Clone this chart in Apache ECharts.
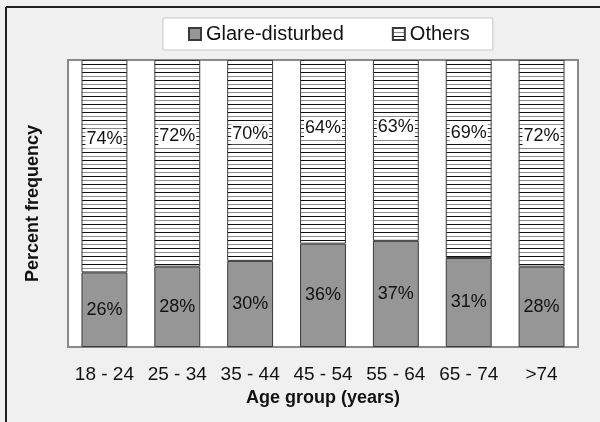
<!DOCTYPE html>
<html>
<head>
<meta charset="utf-8">
<script src="https://cdn.jsdelivr.net/npm/echarts@6/dist/echarts.min.js"></script>
<style>
  html, body { margin: 0; padding: 0; background: #f0f0f0; }
  #chart { width: 600px; height: 422px; }
</style>
</head>
<body>
<div id="chart"></div>
<script>
var categories = ['18 - 24', '25 - 34', '35 - 44', '45 - 54', '55 - 64', '65 - 74', '>74'];
var glareValues = [26, 28, 30, 36, 37, 31, 28];
var otherValues = [74, 72, 70, 64, 63, 69, 72];

// horizontal line hatch for "Others"
var hatch = document.createElement('canvas');
hatch.width = 8;
hatch.height = 8;
var hctx = hatch.getContext('2d');
hctx.fillStyle = '#ffffff';
hctx.fillRect(0, 0, 8, 8);
hctx.fillStyle = '#111111';
hctx.fillRect(0, 0, 8, 1);
hctx.fillStyle = '#8c8c8c';
hctx.fillRect(0, 4, 8, 1);

var font = 'Liberation Sans, Arial, sans-serif';

var chart = echarts.init(document.getElementById('chart'));
var option = {
    backgroundColor: '#f0f0f0',
    animation: false,
    textStyle: { fontFamily: font },
    graphic: [
        { type: 'line', shape: { x1: 6, y1: 7, x2: 600, y2: 7 }, style: { stroke: '#222', lineWidth: 2 } },
        { type: 'line', shape: { x1: 6, y1: 7, x2: 6, y2: 422 }, style: { stroke: '#222', lineWidth: 2 } }
    ],
    legend: {
        left: 163,
        top: 18,
        padding: [6, 23, 6, 25],
        itemGap: 48,
        itemWidth: 12,
        itemHeight: 12,
        icon: 'rect',
        backgroundColor: '#ffffff',
        borderColor: '#c8c8c8',
        borderWidth: 1,
        textStyle: { fontSize: 20, color: '#111', fontFamily: font },
        data: ['Glare-disturbed', 'Others']
    },
    grid: {
        left: 68,
        right: 22,
        top: 60,
        bottom: 75,
        show: true,
        backgroundColor: '#ffffff',
        borderColor: '#8a8a8a',
        borderWidth: 2
    },
    xAxis: {
        type: 'category',
        data: categories,
        axisLine: { show: false },
        axisTick: { show: false },
        axisLabel: { interval: 0, margin: 18, fontSize: 19, color: '#111', fontFamily: font },
        name: 'Age group (years)',
        nameLocation: 'middle',
        nameGap: 39,
        nameTextStyle: { fontSize: 18, fontWeight: 'bold', color: '#111', fontFamily: font }
    },
    yAxis: {
        type: 'value',
        min: 0,
        max: 100,
        axisLine: { show: false },
        axisTick: { show: false },
        axisLabel: { show: false },
        splitLine: { show: false },
        name: 'Percent frequency',
        nameLocation: 'middle',
        nameGap: 26,
        nameTextStyle: { fontSize: 18, fontWeight: 'bold', color: '#111', fontFamily: font }
    },
    series: [
        {
            name: 'Glare-disturbed',
            type: 'bar',
            stack: 'all',
            barWidth: '63%',
            data: glareValues,
            itemStyle: { color: '#969696', borderColor: '#3a3a3a', borderWidth: 1 },
            label: {
                show: true,
                position: 'inside',
                formatter: '{c}%',
                fontSize: 18,
                color: '#111',
                fontFamily: font
            }
        },
        {
            name: 'Others',
            type: 'bar',
            stack: 'all',
            barWidth: '63%',
            data: otherValues,
            itemStyle: {
                color: { image: hatch, repeat: 'repeat' },
                borderColor: '#3a3a3a',
                borderWidth: 1
            },
            label: {
                show: true,
                position: ['50%', '37%'],
                align: 'center',
                verticalAlign: 'middle',
                formatter: '{c}%',
                fontSize: 18,
                color: '#111',
                backgroundColor: '#ffffff',
                padding: [1, 1],
                fontFamily: font
            }
        }
    ]
};
chart.setOption(option);
</script>
</body>
</html>
